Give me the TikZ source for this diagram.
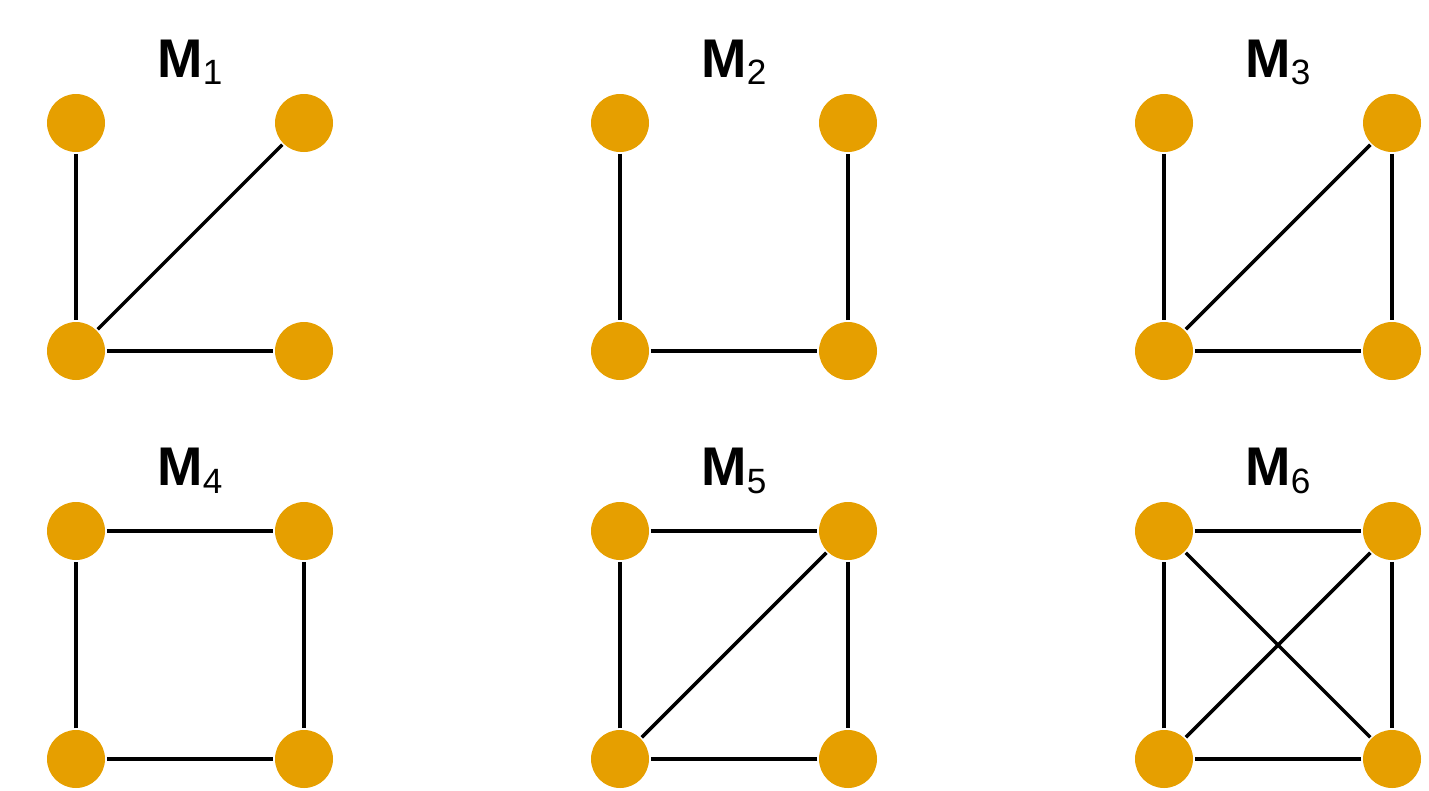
\documentclass[tikz,border=0pt]{standalone}
\usepackage{fontspec}
\setmainfont{Liberation Sans}
\definecolor{motiforange}{RGB}{230,159,0}
\begin{document}
\begin{tikzpicture}[line width=1pt,
        vx/.style={circle, fill=motiforange, inner sep=0pt, minimum size=0.58cm},
        ttl/.style={anchor=base, font=\fontsize{15.5}{18}\selectfont}]

    \useasboundingbox (0,0) rectangle (14.29,7.90);

    % --- wierzchołki motywów: 3 kolumny x 2 wiersze ---
    \foreach \m/\x/\y in {1/0.76/4.39, 2/6.20/4.39, 3/11.64/4.39,
                          4/0.76/0.31, 5/6.20/0.31, 6/11.64/0.31} {
        \node[vx] (m\m-bl) at (\x,\y) {};
        \node[vx] (m\m-br) at ({\x+2.28},\y) {};
        \node[vx] (m\m-tl) at (\x,{\y+2.28}) {};
        \node[vx] (m\m-tr) at ({\x+2.28},{\y+2.28}) {};
        \node[ttl] (t\m) at ({\x+1.14},{\y+2.74}) {\textbf{M}\raisebox{-0.08cm}{\fontsize{10}{12}\selectfont\m}};
    }

    % --- krawędzie ---
    \foreach \m/\edges in {%
        1/{tl/bl, bl/tr, bl/br},
        2/{tl/bl, bl/br, br/tr},
        3/{tl/bl, bl/tr, tr/br, bl/br},
        4/{tl/tr, tr/br, br/bl, bl/tl},
        5/{tl/tr, tr/br, br/bl, bl/tl, bl/tr},
        6/{tl/tr, tr/br, br/bl, bl/tl, bl/tr, tl/br}} {
        \foreach \a/\b in \edges {
            \draw (m\m-\a) -- (m\m-\b);
        }
    }

\end{tikzpicture}
\end{document}
